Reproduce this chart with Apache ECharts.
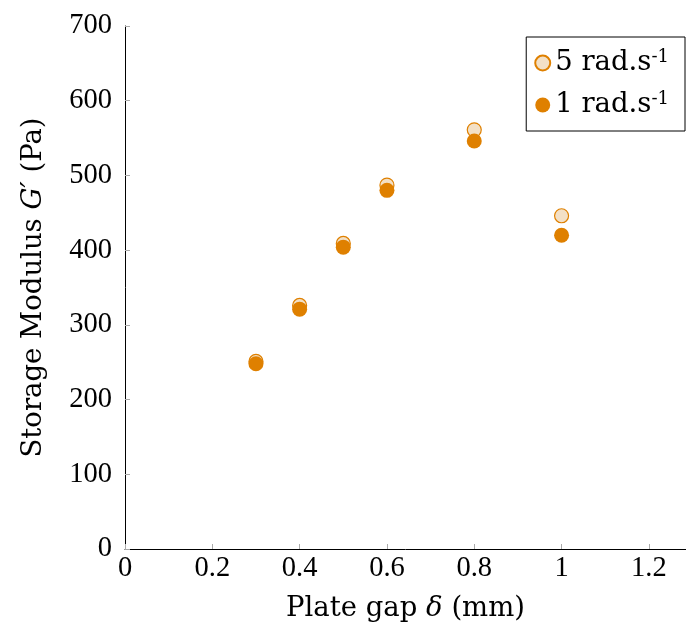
<!DOCTYPE html>
<html><head><meta charset="utf-8">
<script src="https://cdn.jsdelivr.net/npm/echarts@6/dist/echarts.min.js"></script>
<style>html,body{margin:0;padding:0;background:#fff}#c{width:686px;height:636px}</style>
</head><body><div id="c"></div>
<script>
const gap = [0.3, 0.4, 0.5, 0.6, 0.8, 1.0];
const g5 = [251, 326, 409, 487, 561, 446];
const g1 = [248, 321, 404, 480, 546, 420];
const seriesNames = ['5 rad.s', '1 rad.s'];
const xTicks = [0, 0.2, 0.4, 0.6, 0.8, 1, 1.2];
const yTicks = [0, 100, 200, 300, 400, 500, 600, 700];

const NUM = 'Liberation Serif';
const TXT = 'DejaVu Serif';
const orange = '#df8000';
const beige = '#f3e0c6';
const chart = echarts.init(document.getElementById('c'));
chart.setOption({
  animation: false,
  grid: {left: 125, top: 26, width: 561, height: 523},
  xAxis: {
    type: 'value', min: 0, max: 1.285, interval: 0.2,
    axisLine: {show: true, lineStyle: {color: '#000', width: 1}},
    axisTick: {show: true, inside: true, length: 5, lineStyle: {color: '#aaa'}},
    splitLine: {show: false},
    axisLabel: {fontFamily: NUM, fontSize: 28.5, color: '#000', margin: 5,
      showMaxLabel: false,
      formatter: v => xTicks.some(t => Math.abs(t - v) < 1e-9) ? String(+v.toFixed(1)) : ''},
    name: 'Plate gap {i|δ} (mm)', nameLocation: 'middle', nameGap: 46,
    nameTextStyle: {fontFamily: TXT, fontSize: 27.5, color: '#000',
      rich: {i: {fontFamily: TXT, fontStyle: 'italic', fontSize: 27.5, color: '#000'}}}
  },
  yAxis: {
    type: 'value', min: 0, max: 700, interval: 100,
    axisLine: {show: true, lineStyle: {color: '#000', width: 1}},
    axisTick: {show: true, inside: true, length: 5, lineStyle: {color: '#aaa'}},
    splitLine: {show: false},
    axisLabel: {fontFamily: NUM, fontSize: 28.5, color: '#000', margin: 13,
      formatter: v => yTicks.includes(v) ? String(v) : ''},
    name: 'Storage Modulus {i|G′} (Pa)', nameLocation: 'middle', nameGap: 77,
    nameTextStyle: {fontFamily: TXT, fontSize: 27.5, color: '#000',
      rich: {i: {fontFamily: TXT, fontStyle: 'italic', fontSize: 27.5, color: '#000'}}}
  },
  legend: {
    right: 1, top: 37, orient: 'vertical', icon: 'circle',
    itemWidth: 15, itemHeight: 15, itemGap: 12,
    padding: [11, 16, 11, 8],
    borderColor: '#000', borderWidth: 1, backgroundColor: '#fff',
    formatter: n => n + '{sup|-1}',
    textStyle: {fontFamily: TXT, fontSize: 27.5, color: '#000', lineHeight: 30,
      rich: {sup: {fontFamily: TXT, fontSize: 18, color: '#000', verticalAlign: 'top', lineHeight: 30, padding: [0,0,12,0]}}},
    data: seriesNames
  },
  series: [
    {name: seriesNames[0], type: 'scatter', symbol: 'circle', symbolSize: 14,
     itemStyle: {color: beige, borderColor: orange, borderWidth: 1.2, opacity: 1},
     data: gap.map((x, i) => [x, g5[i]])},
    {name: seriesNames[1], type: 'scatter', symbol: 'circle', symbolSize: 15,
     itemStyle: {color: orange, borderColor: orange, borderWidth: 0, opacity: 1},
     data: gap.map((x, i) => [x, g1[i]])}
  ]
});
</script></body></html>
